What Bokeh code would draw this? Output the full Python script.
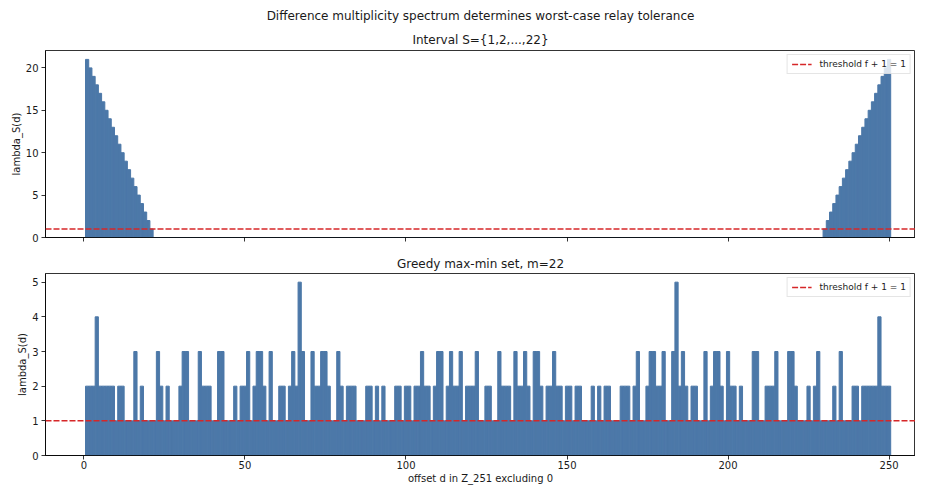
from bokeh.plotting import figure
from bokeh.layouts import column
from bokeh.models import (Range1d, Span, Legend, LegendItem, Title, FixedTicker,
                          ColumnDataSource)
from bokeh.embed import file_html
from bokeh.resources import INLINE

# ---------------- data ----------------
offsets = list(range(1, 251))

interval_head = [21, 20, 19, 18, 17, 16, 15, 14, 13, 12, 11, 10, 9, 8, 7, 6, 5, 4, 3, 2, 1]
interval_tail = [1, 2, 3, 4, 5, 6, 7, 8, 9, 10, 11, 12, 13, 14, 15, 16, 17, 18, 19, 20, 21]
interval_lambda = interval_head + [0] * 208 + interval_tail

greedy_lambda = [
    2, 2, 2, 4, 2, 2, 2, 2, 2, 1,
    2, 2, 1, 1, 1, 3, 1, 2, 1, 1,
    1, 1, 3, 2, 1, 2, 1, 1, 1, 2,
    3, 3, 1, 1, 1, 3, 2, 2, 2, 1,
    1, 3, 3, 1, 1, 1, 2, 1, 2, 2,
    3, 1, 2, 3, 3, 2, 1, 3, 1, 1,
    2, 2, 1, 2, 3, 2, 5, 3, 1, 1,
    3, 2, 2, 3, 3, 2, 1, 1, 3, 2,
    1, 2, 2, 2, 1, 1, 1, 2, 2, 1,
    2, 1, 2, 1, 1, 1, 2, 2, 1, 2,
    2, 1, 2, 2, 3, 2, 2, 1, 2, 3,
    3, 1, 2, 3, 2, 2, 3, 1, 2, 2,
    2, 3, 1, 1, 2, 2, 1, 1, 3, 2,
    2, 2, 1, 3, 2, 2, 3, 2, 1, 3,
    3, 2, 1, 2, 2, 3, 2, 2, 1, 2,
    2, 1, 2, 2, 1, 1, 1, 2, 1, 2,
    1, 2, 2, 1, 1, 1, 2, 2, 2, 1,
    2, 3, 1, 1, 2, 3, 3, 2, 2, 3,
    1, 1, 3, 5, 2, 3, 2, 1, 2, 2,
    1, 1, 3, 1, 2, 3, 3, 2, 1, 3,
    2, 2, 1, 2, 1, 1, 1, 3, 3, 1,
    1, 2, 2, 2, 3, 1, 1, 1, 3, 3,
    2, 1, 1, 1, 2, 1, 2, 3, 1, 1,
    1, 1, 2, 1, 3, 1, 1, 1, 2, 2,
    1, 2, 2, 2, 2, 2, 4, 2, 2, 2,
]

threshold = 1
x_ticks = [0, 50, 100, 150, 200, 250]
interval_y_ticks = [0, 5, 10, 15, 20]
greedy_y_ticks = [0, 1, 2, 3, 4, 5]

suptitle_text = "Difference multiplicity spectrum determines worst-case relay tolerance"
panel_titles = ["Interval S={1,2,...,22}", "Greedy max-min set, m=22"]
y_label = "lambda_S(d)"
x_label = "offset d in Z_251 excluding 0"
legend_label = "threshold f + 1 = 1"

# ---------------- style ----------------
FONT = "DejaVu Sans"
BAR = "#4C78A8"
RED = "#D62728"
WIDTH = 915

x_range = Range1d(-11.92, 258.2)


def make_panel(values, yticks, title, height, top_border, bottom_border,
               show_xlabels, title_standoff, sup=None):
    p = figure(width=WIDTH, height=height, x_range=x_range,
               y_range=Range1d(0, max(values) * 1.05),
               output_backend="svg", toolbar_location=None,
               min_border_left=45, min_border_right=0,
               min_border_top=top_border, min_border_bottom=bottom_border)
    p.background_fill_color = "white"
    p.border_fill_color = "white"
    p.xgrid.visible = False
    p.ygrid.visible = False
    p.outline_line_color = "black"
    p.outline_line_width = 0.8
    p.outline_line_alpha = 1.0

    src = ColumnDataSource(dict(d=offsets, v=values))
    p.vbar(x="d", top="v", bottom=0, width=1.0, source=src,
           fill_color=BAR, line_color=BAR, line_width=1.0)

    span = Span(location=threshold, dimension="width", line_color=RED,
                line_width=1.5, line_dash="6 2")
    p.add_layout(span)
    # single-point line: invisible on the plot, supplies the legend glyph
    dummy = p.line(x=[offsets[0]], y=[threshold], line_color=RED,
                   line_width=1.5, line_dash="6 2")

    legend = Legend(items=[LegendItem(label=legend_label, renderers=[dummy])],
                    location="top_right")
    legend.label_text_font = FONT
    legend.label_text_font_size = "9px"
    legend.label_text_color = "#222222"
    legend.glyph_width = 20
    legend.glyph_height = 10
    legend.label_height = 10
    legend.label_standoff = 8
    legend.padding = 4
    legend.margin = 4
    legend.spacing = 0
    legend.border_line_color = "#cccccc"
    legend.border_line_width = 1
    legend.background_fill_alpha = 0.8
    p.add_layout(legend)

    p.xaxis.ticker = FixedTicker(ticks=x_ticks)
    p.yaxis.ticker = FixedTicker(ticks=yticks)
    for ax in p.axis:
        ax.major_tick_out = 4
        ax.major_tick_in = 0
        ax.minor_tick_out = 0
        ax.minor_tick_in = 0
        ax.axis_line_color = "black"
        ax.axis_line_width = 0.8
        ax.major_tick_line_color = "black"
        ax.major_tick_line_width = 0.8
        ax.major_label_text_font = FONT
        ax.major_label_text_font_size = "10px"
        ax.major_label_text_color = "#1a1a1a"
        ax.major_label_standoff = 3
        ax.axis_label_text_font = FONT
        ax.axis_label_text_font_size = "10px"
        ax.axis_label_text_font_style = "normal"
        ax.axis_label_text_color = "#1a1a1a"
    p.yaxis.axis_label = y_label
    p.yaxis.axis_label_standoff = 1

    if show_xlabels:
        p.xaxis.axis_label = x_label
        p.xaxis.major_label_standoff = 1
        p.xaxis.axis_label_standoff = 1
    else:
        # tick marks only (shared x axis): labels are not painted
        p.xaxis.major_label_text_alpha = 0
        p.xaxis.major_label_text_font_size = "1px"
        p.xaxis.major_label_standoff = 0

    p.add_layout(Title(text=title, align="center", text_font=FONT,
                       text_font_size="12px", text_font_style="normal",
                       text_color="#1a1a1a", standoff=title_standoff), "above")
    if sup is not None:
        p.add_layout(Title(text=sup, align="center", text_font=FONT,
                           text_font_size="12px", text_font_style="normal",
                           text_color="#1a1a1a", standoff=10), "above")
    return p


p1 = make_panel(interval_lambda, interval_y_ticks, panel_titles[0],
                height=243, top_border=50, bottom_border=6,
                show_xlabels=False, title_standoff=7, sup=suptitle_text)
p2 = make_panel(greedy_lambda, greedy_y_ticks, panel_titles[1],
                height=243, top_border=30, bottom_border=30,
                show_xlabels=True, title_standoff=5)

layout = column(p1, p2, spacing=0)

open("out.html", "w").write(file_html(layout, INLINE))
